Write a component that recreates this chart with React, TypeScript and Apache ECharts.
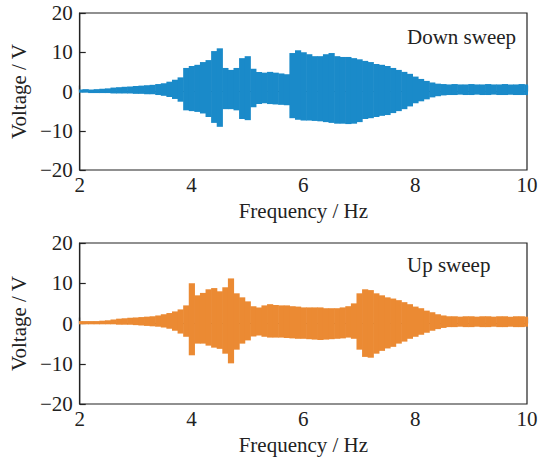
import React, { useEffect, useRef } from "react";
import * as echarts from "echarts";

const freq = [
  2.0, 2.1, 2.2, 2.3, 2.4, 2.5, 2.6, 2.7, 2.8, 2.9,
  3.0, 3.1, 3.2, 3.3, 3.4, 3.5, 3.6, 3.7, 3.8, 3.9,
  4.0, 4.1, 4.2, 4.3, 4.4, 4.5, 4.6, 4.7, 4.8, 4.9,
  5.0, 5.1, 5.2, 5.3, 5.4, 5.5, 5.6, 5.7, 5.8, 5.9,
  6.0, 6.1, 6.2, 6.3, 6.4, 6.5, 6.6, 6.7, 6.8, 6.9,
  7.0, 7.1, 7.2, 7.3, 7.4, 7.5, 7.6, 7.7, 7.8, 7.9,
  8.0, 8.1, 8.2, 8.3, 8.4, 8.5, 8.6, 8.7, 8.8, 8.9,
  9.0, 9.1, 9.2, 9.3, 9.4, 9.5, 9.6, 9.7, 9.8, 9.9,
  10.0,
];

const downHigh = [
  0.5, 0.6, 0.5, 0.6, 0.7, 0.8, 1.0, 1.1, 1.2, 1.3,
  1.4, 1.5, 1.6, 1.7, 1.9, 2.1, 2.5, 3.0, 3.6, 6.0,
  6.5, 6.8, 7.5, 8.0, 10.3, 11.0, 6.0, 5.5, 6.0, 8.5,
  9.0, 5.8, 5.0, 4.8, 5.0, 4.8, 4.6, 4.4, 9.8, 10.5,
  10.0, 9.5, 9.0, 9.0, 9.5, 9.8, 9.0, 8.8, 8.8, 8.5,
  8.2, 7.8, 7.5, 7.0, 6.8, 6.5, 6.0, 5.5, 5.0, 4.5,
  3.8, 3.2, 2.7, 2.3, 2.0, 1.9, 1.8, 1.9, 1.8, 1.8,
  1.9, 1.8, 1.8, 1.9, 1.8, 1.8, 1.9, 1.8, 1.8, 1.9,
  1.8,
];
const downLow = [
  -0.3, -0.3, -0.4, -0.4, -0.4, -0.4, -0.5, -0.5, -0.5, -0.5,
  -0.6, -0.6, -0.7, -0.7, -0.9, -1.1, -1.4, -1.9, -2.6, -4.8,
  -5.0, -5.2, -5.6, -6.5, -8.0, -9.0, -4.5, -4.5, -4.8, -7.0,
  -7.3, -4.0, -3.2, -3.0, -3.2, -3.3, -3.4, -3.5, -6.8, -7.2,
  -7.4, -7.4, -7.5, -7.6, -7.8, -8.0, -8.2, -8.2, -8.3, -8.2,
  -7.8, -7.0, -6.8, -6.5, -6.2, -6.0, -5.5, -5.0, -4.5, -3.8,
  -3.0, -2.5, -2.0, -1.5, -1.2, -1.0, -0.9, -0.9, -0.8, -0.9,
  -0.9, -0.8, -0.9, -0.9, -0.8, -0.9, -0.9, -0.8, -0.9, -0.9,
  -0.9,
];

const upHigh = [
  0.6, 0.6, 0.6, 0.6, 0.7, 0.8, 1.0, 1.2, 1.3, 1.4,
  1.5, 1.6, 1.7, 1.8, 2.0, 2.3, 2.6, 3.0, 3.5, 4.5,
  10.0, 7.0, 7.6, 8.5, 8.8, 8.0, 9.0, 11.2, 7.5, 6.5,
  5.5, 4.3, 4.0, 4.5, 4.8, 4.6, 4.5, 4.5, 4.3, 4.2,
  4.0, 4.0, 4.0, 4.0, 3.8, 3.8, 3.8, 4.0, 4.3, 5.0,
  7.5, 8.5, 8.3, 7.5, 7.0, 6.5, 6.2, 5.8, 5.3, 4.8,
  4.2, 3.8, 3.2, 2.8, 2.3, 2.0, 1.8, 1.8, 1.7, 1.8,
  1.8, 1.7, 1.8, 1.8, 1.7, 1.8, 1.8, 1.7, 1.8, 1.8,
  1.7,
];
const upLow = [
  -0.2, -0.2, -0.2, -0.2, -0.2, -0.2, -0.2, -0.3, -0.3, -0.3,
  -0.4, -0.5, -0.6, -0.7, -0.8, -1.0, -1.3, -1.8, -2.5, -3.3,
  -7.9, -5.0, -5.0, -5.5, -6.0, -6.3, -7.5, -9.9, -6.5, -5.0,
  -4.2, -3.2, -3.0, -3.3, -3.5, -3.5, -3.5, -3.6, -3.7, -3.8,
  -3.8, -3.9, -4.0, -4.1, -4.0, -3.9, -3.8, -3.7, -3.5, -3.8,
  -6.5, -8.3, -8.5, -7.5, -6.8, -6.2, -5.8, -5.0, -4.5, -3.8,
  -3.3, -2.8, -2.3, -1.8, -1.4, -1.1, -0.9, -0.9, -0.8, -0.9,
  -0.9, -0.8, -0.9, -0.9, -0.8, -0.9, -0.9, -0.8, -0.9, -0.9,
  -0.8,
];

const xTicks = [2, 4, 6, 8, 10];
const yTicks = [-20, -10, 0, 10, 20];
const panelLabels = ["Down sweep", "Up sweep"];
const xName = "Frequency / Hz";
const yName = "Voltage / V";

const FONT = '"Liberation Serif", "Times New Roman", serif';
const TEXT = "#222";
const BLUE = "#1a8ac9";
const ORANGE = "#eb8a33";
const STEP = 0.1;

function bandData(hi: number[], lo: number[]) {
  return freq.map((f, i) => [f, hi[i], lo[i]]);
}

function makeRender(color: string) {
  return (params: any, api: any) => {
    const f = api.value(0);
    const hi = api.value(1);
    const lo = api.value(2);
    const p1 = api.coord([f - STEP / 2, hi]);
    const p2 = api.coord([f + STEP / 2, lo]);
    return {
      type: "rect",
      shape: { x: p1[0], y: p1[1], width: p2[0] - p1[0] + 0.6, height: p2[1] - p1[1] },
      style: { fill: color },
    };
  };
}

export default function App() {
  const ref = useRef<HTMLDivElement>(null);
  useEffect(() => {
    if (!ref.current) return;
    const chart = echarts.init(ref.current, null, { renderer: "svg" });
    const axisLabel = { fontFamily: FONT, fontSize: 21, color: TEXT };
    const xAxisBase = (gi: number) => ({
      type: "value",
      gridIndex: gi,
      min: xTicks[0],
      max: xTicks[xTicks.length - 1],
      interval: 2,
      name: xName,
      nameLocation: "middle",
      nameGap: 30,
      nameTextStyle: { fontFamily: FONT, fontSize: 21, color: TEXT },
      axisLine: { show: true, lineStyle: { color: TEXT, width: 1.2 } },
      axisTick: { show: true, inside: true, length: 6, lineStyle: { color: TEXT, width: 1.2 } },
      axisLabel: { ...axisLabel, margin: 4 },
      splitLine: { show: false },
    });
    const yAxisBase = (gi: number) => ({
      type: "value",
      gridIndex: gi,
      min: yTicks[0],
      max: yTicks[yTicks.length - 1],
      interval: 10,
      name: yName,
      nameLocation: "middle",
      nameGap: 38,
      nameRotate: 90,
      nameTextStyle: { fontFamily: FONT, fontSize: 21, color: TEXT },
      axisLine: { show: true, lineStyle: { color: TEXT, width: 1.2 } },
      axisTick: { show: true, inside: true, length: 6, lineStyle: { color: TEXT, width: 1.2 } },
      axisLabel: {
        ...axisLabel,
        margin: 7,
        formatter: (v: number) => String(v).replace("-", "\u2212"),
      },
      splitLine: { show: false },
    });
    chart.setOption({
      animation: false,
      backgroundColor: "#fff",
      grid: [
        { left: 77, top: 13, width: 450, height: 157, show: true, borderColor: TEXT, borderWidth: 1.2, backgroundColor: "transparent" },
        { left: 77, top: 243, width: 450, height: 161, show: true, borderColor: TEXT, borderWidth: 1.2, backgroundColor: "transparent" },
      ],
      xAxis: [xAxisBase(0), xAxisBase(1)],
      yAxis: [yAxisBase(0), yAxisBase(1)],
      series: [
        {
          type: "custom",
          xAxisIndex: 0,
          yAxisIndex: 0,
          clip: true,
          renderItem: makeRender(BLUE),
          data: bandData(downHigh, downLow),
        },
        {
          type: "custom",
          xAxisIndex: 1,
          yAxisIndex: 1,
          clip: true,
          renderItem: makeRender(ORANGE),
          data: bandData(upHigh, upLow),
        },
      ],
      graphic: [
        {
          type: "text",
          left: 407,
          top: 26,
          style: { text: panelLabels[0], fontFamily: FONT, fontSize: 21, fill: TEXT },
        },
        {
          type: "text",
          left: 407,
          top: 254,
          style: { text: panelLabels[1], fontFamily: FONT, fontSize: 21, fill: TEXT },
        },
      ],
    });
    return () => chart.dispose();
  }, []);
  return (
    <div
      ref={ref}
      style={{ position: "fixed", left: 0, top: 0, width: 555, height: 461, background: "#fff" }}
    />
  );
}
